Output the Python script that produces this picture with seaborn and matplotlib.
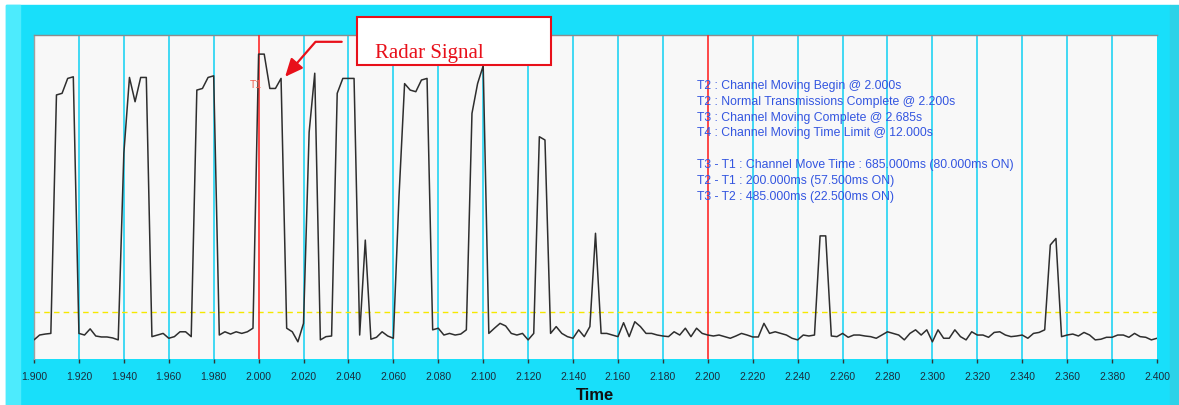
import numpy as np
import matplotlib
matplotlib.use("Agg")
import matplotlib.pyplot as plt
from matplotlib.patches import Rectangle
import seaborn as sns

# Radar signal trace, one reading every 2.5 ms from 1.900 s to 2.400 s
t_start = 1.900
sample_period = 0.0025
signal = [
    5.9, 7.4, 7.7, 7.9, 81.5, 82.0, 86.6, 87.1, 7.9, 7.4,
    9.3, 7.1, 6.8, 6.8, 6.5, 5.9, 63.5, 86.9, 79.4, 86.9,
    86.9, 6.9, 7.4, 7.9, 6.4, 6.9, 8.4, 8.4, 6.9, 83.0,
    83.5, 86.9, 87.4, 7.4, 8.4, 7.7, 8.4, 7.9, 8.4, 9.5,
    94.1, 94.1, 83.5, 83.5, 86.6, 9.5, 8.4, 5.3, 11.0, 70.0,
    88.2, 5.9, 6.9, 7.1, 82.0, 86.6, 86.6, 86.6, 7.4, 36.7,
    6.1, 6.7, 8.4, 7.1, 6.4, 50.0, 85.0, 83.0, 82.5, 86.1,
    86.6, 9.0, 9.5, 7.4, 7.9, 7.4, 7.7, 9.0, 75.8, 85.0,
    90.5, 7.9, 9.5, 11.0, 10.2, 7.9, 7.4, 7.9, 5.9, 7.9,
    68.6, 67.6, 7.9, 10.0, 7.9, 6.9, 6.4, 9.0, 6.9, 10.0,
    38.8, 7.9, 7.9, 7.4, 6.9, 11.2, 6.9, 11.5, 10.0, 7.9,
    7.9, 7.4, 7.1, 6.9, 8.4, 7.4, 9.5, 6.9, 9.5, 7.9,
    7.4, 7.1, 7.4, 6.9, 6.4, 7.1, 7.9, 7.4, 6.8, 6.8,
    11.0, 7.9, 8.4, 7.9, 7.4, 6.4, 5.9, 7.4, 7.1, 7.4,
    38.0, 38.0, 7.1, 6.9, 7.9, 6.7, 7.4, 7.4, 7.1, 6.9,
    6.4, 7.4, 8.4, 7.9, 7.4, 5.9, 7.9, 9.0, 7.4, 9.0,
    5.3, 9.0, 6.4, 6.4, 9.0, 6.9, 5.9, 8.4, 7.4, 7.4,
    6.7, 8.2, 8.4, 7.4, 6.9, 7.1, 7.4, 6.4, 7.9, 8.2,
    9.0, 35.2, 37.2, 6.9, 7.4, 7.7, 7.1, 8.2, 7.4, 5.9,
    6.1, 6.7, 6.7, 7.4, 7.4, 6.7, 7.9, 6.9, 6.7, 5.9,
    6.4,
]
time = t_start + sample_period * np.arange(len(signal))

threshold = 14.5
markers = [2.000, 2.200]          # T1 / T2 red cursors
tick_values = np.round(np.arange(1.900, 2.4001, 0.020), 3)

info_lines = [
    "T2 : Channel Moving Begin @ 2.000s",
    "T2 : Normal Transmissions Complete @ 2.200s",
    "T3 : Channel Moving Complete @ 2.685s",
    "T4 : Channel Moving Time Limit @ 12.000s",
    "",
    "T3 - T1 : Channel Move Time : 685.000ms (80.000ms ON)",
    "T2 - T1 : 200.000ms (57.500ms ON)",
    "T3 - T2 : 485.000ms (22.500ms ON)",
]

CYAN = "#18DFFA"
GRID = "#22D3F2"
RED = "#FF2A2A"

sns.set_theme(style="white")
plt.rcParams["font.family"] = ["Liberation Sans", "DejaVu Sans"]

W, H = 1179, 405
fig = plt.figure(figsize=(W / 100, H / 100), dpi=100, facecolor="white")

# window frame
fig.patches.append(Rectangle((6 / W, 0), 1164 / W, 400 / H, transform=fig.transFigure,
                             color=CYAN, zorder=-5))
fig.patches.append(Rectangle((6 / W, 0), 14 / W, 400 / H, transform=fig.transFigure,
                             color="#4DEBFD", zorder=-4))
fig.patches.append(Rectangle((1170 / W, 0), 9 / W, 400 / H, transform=fig.transFigure,
                             color="#2CD2E8", zorder=-4))

ax = fig.add_axes([34 / W, 46 / H, 1123 / W, 324 / H])
ax.set_zorder(2)
ax.set_facecolor("#F8F8F8")

for x in tick_values[1:-1]:
    if x not in markers:
        ax.axvline(x, color=GRID, lw=1.2, zorder=1)
for x in markers:
    ax.axvline(x, color=RED, lw=1.2, zorder=3)

ax.axhline(threshold, color="#F5E800", lw=1, ls=(0, (4, 3)), zorder=2)

sns.lineplot(x=time, y=signal, ax=ax, color="#2E2E2E", linewidth=1.1,
             estimator=None, zorder=4)

ax.set_xlim(1.900, 2.400)
ax.set_ylim(0, 100)
ax.set_xticks(tick_values)
ax.set_xticklabels([f"{v:.3f}" for v in tick_values])
ax.set_yticks([])
ax.tick_params(axis="x", direction="out", length=3, width=1, color="#333333",
               labelsize=7.5, labelcolor="#1C2B3A", pad=6, bottom=True)
ax.set_xlabel("Time", fontsize=12, fontweight="bold", color="#111111", labelpad=5)
ax.set_ylabel("")

for side in ["right", "bottom"]:
    ax.spines[side].set_visible(False)
ax.spines["top"].set_color("#8C8C8C")
ax.spines["left"].set_color("#A0A0A0")
ax.spines["top"].set_linewidth(1)
ax.spines["left"].set_linewidth(1)

# cursor label
ax.text(2.0015, 84.6, "T1", color="#F06050", fontsize=7.5, ha="right", va="center", zorder=5)

# info block
ax.text(0.590, 0.672, "\n".join(info_lines), transform=ax.transAxes, color="#3355E0",
        fontsize=8.8, ha="left", va="center", linespacing=1.42, zorder=5)

# callout
ax.add_patch(Rectangle((0.2876, 0.9074), 0.1728, 0.1482, transform=ax.transAxes,
                       facecolor="white", edgecolor="#E8101A", lw=1.5,
                       clip_on=False, zorder=10))
ax.text(0.3036, 0.929, "Radar Signal", transform=ax.transAxes, color="#E8101A",
        fontsize=15, family=["Liberation Serif", "DejaVu Serif"], va="baseline",
        ha="left", zorder=11)
ax.annotate("", xy=(2.0118, 87.1), xytext=(2.0370, 97.9),
            arrowprops=dict(arrowstyle="-|>,head_length=0.9,head_width=0.4",
                            color="#E8101A", lw=1.6, shrinkA=0, shrinkB=0,
                            connectionstyle="angle,angleA=0,angleB=49,rad=0"),
            zorder=9)

fig.savefig("out.png", dpi=100, facecolor=fig.get_facecolor())
